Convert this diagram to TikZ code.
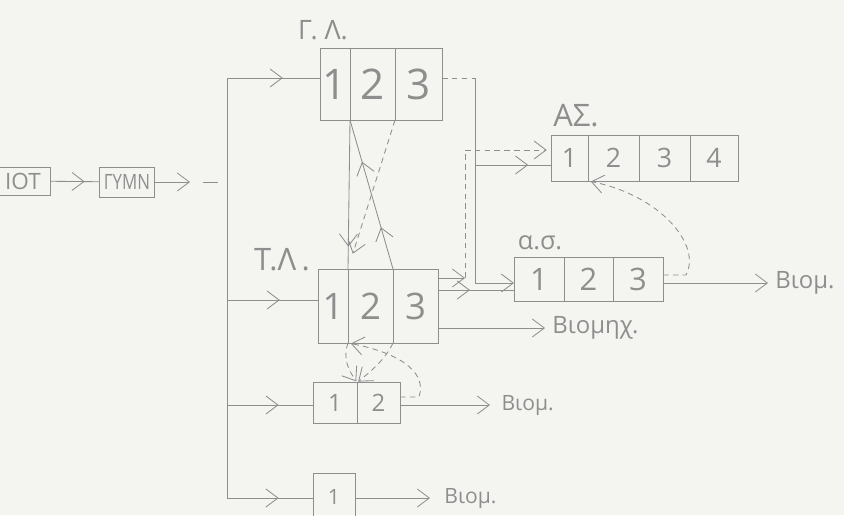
\documentclass[tikz,border=0pt]{standalone}
\usepackage{fontspec}
\setmainfont{Open Sans}
\usetikzlibrary{positioning,arrows.meta,decorations.markings}
\definecolor{ink}{HTML}{8E8E8E}
\definecolor{paper}{HTML}{F4F4F1}

\tikzset{
  chev/.tip={Straight Barb[length=3mm,width=4.5mm,line width=0.6pt,color=ink]},
  wire/.style={draw=ink, line width=0.6pt},
  dashy/.style={wire, dash pattern=on 4pt off 3pt},
  midarrow/.style={postaction={decorate, decoration={markings, mark=at position #1 with {\arrow{chev}}}}},
  cell/.style={draw=ink, line width=0.6pt, inner sep=0pt, outer sep=0pt, text=ink},
  lbl/.style={text=ink, inner sep=0pt},
}

\begin{document}
\begin{tikzpicture}[x=0.025cm, y=-0.025cm,
    glbox/.style={cell, minimum height=1.8cm, font=\fontsize{30}{30}\selectfont},
    tlbox/.style={cell, minimum height=1.85cm, font=\fontsize{26}{26}\selectfont},
    aobox/.style={cell, minimum height=1.1cm, font=\fontsize{22}{22}\selectfont},
    asbox/.style={cell, minimum height=1.15cm, font=\fontsize{19}{19}\selectfont},
    twbox/.style={cell, minimum height=1.025cm, font=\fontsize{17}{17}\selectfont}]
\useasboundingbox[fill=paper] (0,0) rectangle (844,515);

% left chain
\node[cell, minimum width=1.35cm, minimum height=0.7cm, font=\fontsize{16}{16}\selectfont] (iot) at (23,181) {ΙΟΤ};
\node[cell, minimum width=1.375cm, minimum height=0.75cm, font=\fontsize{15}{15}\selectfont] (gymn) at (127,182) {\scalebox{0.8}[1]{ΓΥΜΝ}};

% Γ.Λ.
\node[glbox, minimum width=0.75cm] (gl1) at (335,84) {1};
\node[glbox, minimum width=1.125cm, right=0pt of gl1] (gl2) {2};
\node[glbox, minimum width=1.175cm, right=0pt of gl2] (gl3) {3};
\node[lbl, font=\fontsize{19}{19}\selectfont] (gll) at (323,30) {Γ. Λ.};

% Τ.Λ.
\node[tlbox, minimum width=0.75cm] (tl1) at (333,306) {1};
\node[tlbox, minimum width=1.125cm, right=0pt of tl1] (tl2) {2};
\node[tlbox, minimum width=1.125cm, right=0pt of tl2] (tl3) {3};
\node[lbl, font=\fontsize{22}{22}\selectfont] (tll) at (282,260) {Τ.Λ\,.};

% ΑΣ.
\node[asbox, minimum width=0.925cm] (as1) at (569.5,158) {1};
\node[asbox, minimum width=1.275cm, right=0pt of as1] (as2) {2};
\node[asbox, minimum width=1.275cm, right=0pt of as2] (as3) {3};
\node[asbox, minimum width=1.2cm, right=0pt of as3] (as4) {4};
\node[lbl, font=\fontsize{22}{22}\selectfont] (asl) at (576,116) {ΑΣ.};

% α.σ.
\node[aobox, minimum width=1.25cm] (ao1) at (539,279) {1};
\node[aobox, minimum width=1.225cm, right=0pt of ao1] (ao2) {2};
\node[aobox, minimum width=1.25cm, right=0pt of ao2] (ao3) {3};
\node[lbl, font=\fontsize{18}{18}\selectfont] (aol) at (540,243) {α.σ.};

% 1 2 and 1
\node[twbox, minimum width=1.1cm] (tw1) at (335,403) {1};
\node[twbox, minimum width=1.075cm, right=0pt of tw1] (tw2) {2};
\node[cell, minimum width=1.05cm, minimum height=1.2cm, font=\fontsize{15}{15}\selectfont] (on1) at (334,497) {1};

\coordinate (g1) at (190,182);
\coordinate (g2) at (203,182);
\coordinate (g3) at (218,182);
\coordinate (bustop) at (227,78);
\coordinate (bus2) at (227,300);
\coordinate (bus3) at (227,405);
\coordinate (busbot) at (227,498);

\draw[wire, midarrow=0.7] (iot) -- (gymn);
\draw[wire, -{chev}] (gymn) -- (g1);
\draw[wire] (g2) -- (g3);

% bus and branches
\draw[wire] (bustop) -- (busbot);
\draw[wire, midarrow=0.6] (bustop) -- (bustop -| gl1.west);
\draw[wire, midarrow=0.58] (bus2) -- (bus2 -| tl1.west);
\draw[wire, midarrow=0.6] (bus3) -- (bus3 -| tw1.west);
\draw[wire, midarrow=0.6] (busbot) -- (busbot -| on1.west);

% Γ.Λ. <-> Τ.Λ.
\draw[wire, midarrow=0.85] (gl1.south east) -- (tl1.north east);
\draw[wire, midarrow=0.28, midarrow=0.72] (tl2.north east) -- (gl1.south east);
\draw[dashy, -{chev}, shorten >=0.4cm] (gl2.south east) -- (tl1.north east);

% Γ.Λ. out
\coordinate (gq) at (475,78);
\coordinate (gs) at (475,165);
\coordinate (gr) at (475,283);
\draw[dashy] (gq -| gl3.east) -- (gq);
\draw[wire, -{chev}] (gq) -- (gr) -- (gr -| ao1.west);
\draw[wire, midarrow=0.7] (gs) -- (gs -| as1.west);

% Τ.Λ. out
\coordinate (tu) at (465,150);
\coordinate (td) at (465,278);
\coordinate (tm) at (470,290);
\coordinate (tb) at (545,328);
\draw[wire, -{chev}] (td -| tl3.east) -- (td);
\draw[dashy, -{chev}, shorten >=3pt] (td) -- (tu) -- (tu -| as1.west);
\draw[wire, midarrow=0.42] (tm -| tl3.east) -- (tm -| ao1.west);
\draw[wire, -{chev}] (tb -| tl3.east) -- (tb);
\node[lbl, font=\fontsize{17}{17}\selectfont, right=5pt of tb] (bmx) {Βιομηχ.};

% α.σ. out
\coordinate (ac) at (686,275);
\coordinate (ar) at (768,283);
\draw[wire, -{chev}] (ar -| ao3.east) -- (ar);
\node[lbl, font=\fontsize{17}{17}\selectfont, right=5pt of ar] (bm1) {Βιομ.};
\draw[dashy, -{chev}, shorten >=2pt] (ac -| ao3.east) -- (ac) .. controls (702,245) and (660,195) .. (as1.south east);

% Τ.Λ. -> 1 2
\coordinate (tc) at (419,397);
\draw[dashy, -{chev}, shorten >=1pt] (tl1.south east) .. controls (342,360) and (350,372) .. (tw1.north east);
\draw[dashy, -{chev}, shorten >=1pt] (tl2.south east) .. controls (385,360) and (370,372) .. (tw1.north east);
\draw[dashy, -{chev}, shorten >=2pt] (tc -| tw2.east) -- (tc) .. controls (428,370) and (395,352) .. (tl1.south east);

% outputs
\coordinate (tr) at (490,405);
\coordinate (or) at (430,498);
\draw[wire, -{chev}] (tr -| tw2.east) -- (tr);
\node[lbl, font=\fontsize{15}{15}\selectfont, right=8pt of tr] (bm2) {Βιομ.};
\draw[wire, -{chev}] (or -| on1.east) -- (or);
\node[lbl, font=\fontsize{15}{15}\selectfont, right=10pt of or] (bm3) {Βιομ.};
\end{tikzpicture}
\end{document}
